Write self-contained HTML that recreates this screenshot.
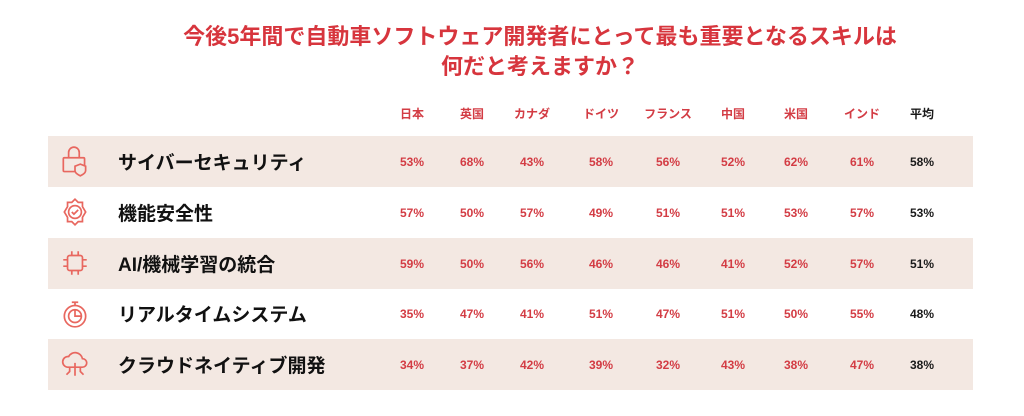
<!DOCTYPE html>
<html><head><meta charset="utf-8"><style>
body{margin:0;width:1024px;height:416px;background:#fff;position:relative;overflow:hidden;font-family:"Liberation Sans","Noto Sans CJK JP",sans-serif;}
.t{position:absolute;left:0;width:1080px;text-align:center;color:#d7353d;font-weight:bold;font-size:22px;line-height:30px;}
.band{position:absolute;left:48px;width:925px;height:51px;background:#f3e8e2;}
.h,.v{position:absolute;width:60px;margin-left:-30px;text-align:center;font-weight:bold;font-size:12px;color:#d33c44;}
.k{color:#1a1a1a;}
.lab{position:absolute;left:118px;font-weight:bold;font-size:19px;color:#111;}
svg{position:absolute;}
</style></head><body>
<div class="t" style="top:22px">今後5年間で自動車ソフトウェア開発者にとって最も重要となるスキルは</div>
<div class="t" style="top:52px">何だと考えますか？</div>
<div class="band" style="top:136px"></div>
<div class="band" style="top:238px"></div>
<div class="band" style="top:339px"></div>
<div id="c"></div>
<svg style="left:59px;top:145px" width="32" height="34" viewBox="0 0 30 32" fill="none" stroke="#e8675f" stroke-width="1.6"><path d="M9 12V7a5 5 0 0 1 10 0v5"/><rect x="4" y="12" width="20" height="13" rx="1"/><path d="M20 18l5 2v4c0 3-5 5-5 5s-5-2-5-5v-4z" fill="#f3e8e2"/></svg>
<svg style="left:59px;top:196px" width="32" height="32" viewBox="0 0 30 30" fill="none" stroke="#e8675f" stroke-width="1.6"><path d="M15 3l3 3h4v4l3 5-3 5v4h-4l-3 3-3-3H8v-4l-3-5 3-5V6h4z"/><circle cx="15" cy="15" r="6"/><path d="M12 15l2 2 4-4"/></svg>
<svg style="left:59px;top:247px" width="32" height="32" viewBox="0 0 30 30" fill="none" stroke="#e8675f" stroke-width="1.6"><rect x="8" y="8" width="14" height="14" rx="2"/><path d="M12 4v4M18 4v4M12 22v4M18 22v4M4 12h4M4 18h4M22 12h4M22 18h4"/></svg>
<svg style="left:59px;top:298px" width="32" height="32" viewBox="0 0 30 30" fill="none" stroke="#e8675f" stroke-width="1.6"><circle cx="15" cy="17" r="10"/><circle cx="15" cy="17" r="6"/><path d="M15 11v6h6M12 4h6M15 4v3"/></svg>
<svg style="left:59px;top:348px" width="32" height="32" viewBox="0 0 30 30" fill="none" stroke="#e8675f" stroke-width="1.6"><path d="M8 18a5 5 0 0 1 1-10 7 7 0 0 1 13 2 4 4 0 0 1 0 8z"/><path d="M15 14v12M10 18v4l-3 3M20 18v4l3 3"/></svg>
<script>
var xs=[412,472,532,601,668,733,796,862,922];
var hs=["日本","英国","カナダ","ドイツ","フランス","中国","米国","インド","平均"];
var labs=["サイバーセキュリティ","機能安全性","AI/機械学習の統合","リアルタイムシステム","クラウドネイティブ開発"];
var d=[[53,68,43,58,56,52,62,61,58],[57,50,57,49,51,51,53,57,53],[59,50,56,46,46,41,52,57,51],[35,47,41,51,47,51,50,55,48],[34,37,42,39,32,43,38,47,38]];
var h="";
hs.forEach(function(s,i){h+='<div class="h'+(i==8?' k':'')+'" style="left:'+xs[i]+'px;top:105px">'+s+'</div>';});
d.forEach(function(r,j){var cy=161+j*50.8;
h+='<div class="lab" style="top:'+(cy-13)+'px">'+labs[j]+'</div>';
r.forEach(function(v,i){h+='<div class="v'+(i==8?' k':'')+'" style="left:'+xs[i]+'px;top:'+(cy-6)+'px">'+v+'%</div>';});});
document.getElementById("c").innerHTML=h;
</script>
</body></html>
